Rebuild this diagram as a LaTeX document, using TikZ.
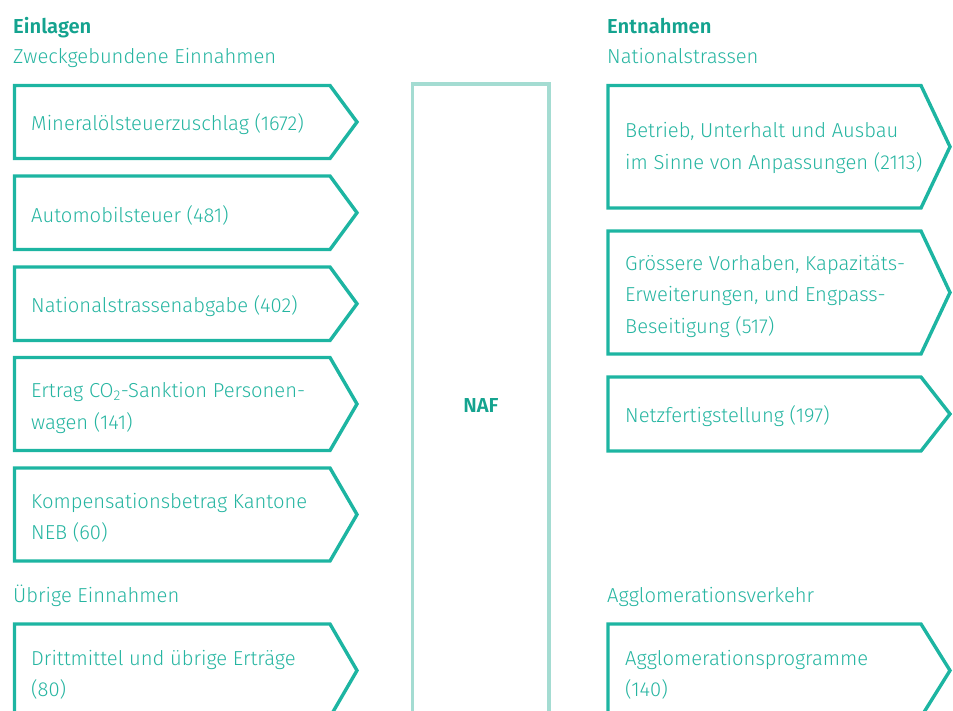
\documentclass[tikz,border=0pt]{standalone}
\usepackage{fontspec}
\setmainfont{Fira Sans}[UprightFont=* Light, BoldFont=* SemiBold]
\definecolor{tealline}{HTML}{1DB5A2}
\definecolor{tealtext}{HTML}{26B5A1}
\definecolor{tealhead}{HTML}{14A38F}
\definecolor{naflight}{HTML}{A4DCD2}
\newcommand\chevbox[5]{% x1 y1 x2 y2 xp
  \draw[boxline] (#1,#2) -- (#3,#2) -- (#5,{(#2+#4)/2}) -- (#3,#4) -- (#1,#4) -- cycle;}
\begin{document}
\begin{tikzpicture}[x=1pt,y=-1pt,
  boxline/.style={draw=tealline,line width=3.4pt,line join=miter},
  boxtext/.style={anchor=west,align=left,text=tealtext,font=\fontsize{20.2}{31.5}\selectfont,inner sep=0pt},
  subhead/.style={anchor=base west,text=tealtext,font=\fontsize{20.2}{24}\selectfont,inner sep=0pt},
  mainhead/.style={anchor=base west,text=tealhead,font=\fontsize{20.2}{24}\selectfont\bfseries,inner sep=0pt}]
\useasboundingbox (0,0) rectangle (953,711);
% headers
\node[mainhead] (einl) at (13,33.3) {Einlagen};
\node[subhead] (zweck) at (13,63.3) {Zweckgebundene Einnahmen};
\node[mainhead] (entn) at (607,33.3) {Entnahmen};
\node[subhead] (nat) at (607,63.3) {Nationalstrassen};
\node[subhead] (uebr) at (13,602.7) {Übrige Einnahmen};
\node[subhead] (aggl) at (607,602.7) {Agglomerationsverkehr};
% NAF column
\draw[draw=naflight,line width=3.6pt] (412.5,730) -- (412.5,84) -- (549,84) -- (549,730);
\node[mainhead,anchor=center] (naf) at (481,406) {NAF};
% left boxes
\chevbox{14.5}{85.5}{330}{158.5}{357}
\node[boxtext] (l1) at (31,124.5) {Mineralölsteuerzuschlag (1672)};
\chevbox{14.5}{176}{330}{249.5}{357}
\node[boxtext] (l2) at (31,215.5) {Automobilsteuer (481)};
\chevbox{14.5}{267}{330}{340.5}{357}
\node[boxtext] (l3) at (31,306.5) {Nationalstrassenabgabe (402)};
\chevbox{14.5}{357.5}{330}{450.5}{357}
\node[boxtext] (l4) at (31,408) {Ertrag CO\textsubscript{2}-Sanktion Personen-\\wagen (141)};
\chevbox{14.5}{468}{330}{561}{357}
\node[boxtext] (l5) at (31,518) {Kompensationsbetrag Kantone\\NEB (60)};
\chevbox{14.5}{624}{330}{717}{357}
\node[boxtext] (l6) at (31,675) {Drittmittel und übrige Erträge\\(80)};
% right boxes
\chevbox{608}{85.5}{921}{208}{950}
\node[boxtext] (r1) at (625,148) {Betrieb, Unterhalt und Ausbau\\im Sinne von Anpassungen (2113)};
\chevbox{608}{231}{921}{354}{950}
\node[boxtext] (r2) at (625,296) {Grössere Vorhaben, Kapazitäts-\\Erweiterungen, und Engpass-\\Beseitigung (517)};
\chevbox{608}{377}{921}{451}{950}
\node[boxtext] (r3) at (625,416.5) {Netzfertigstellung (197)};
\chevbox{608}{624}{921}{717}{950}
\node[boxtext] (r4) at (625,675) {Agglomerationsprogramme\\(140)};
\end{tikzpicture}
\end{document}
